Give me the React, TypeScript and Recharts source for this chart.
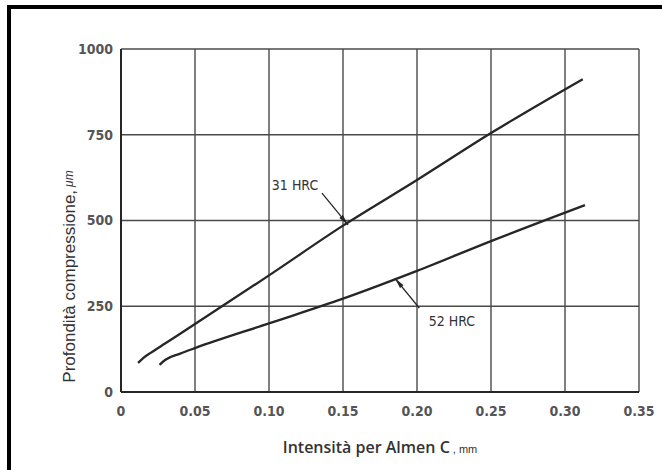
import React from "react";
import {
  LineChart,
  Line,
  XAxis,
  YAxis,
  CartesianGrid,
  ReferenceLine,
  ReferenceDot,
} from "recharts";

// values (Almen C intensity in mm, depth in µm)
const hrc31Intensity = [0.0115, 0.015, 0.02, 0.03, 0.05, 0.1, 0.15, 0.2, 0.25, 0.312];
const hrc31Depth = [85, 99, 114, 142, 198, 340, 485, 618, 755, 912];

const hrc52Intensity = [0.026, 0.03, 0.04, 0.05, 0.1, 0.15, 0.2, 0.25, 0.3135];
const hrc52Depth = [79, 94, 112, 128, 200, 272, 353, 440, 545];

const xTicks = [0, 0.05, 0.1, 0.15, 0.2, 0.25, 0.3, 0.35];
const yTicks = [0, 250, 500, 750, 1000];

// annotation label + arrow from label to curve
const label31 = { x: 0.1176, y: 603, text: "31 HRC" };
const arrow31 = [
  { x: 0.1358, y: 580 },
  { x: 0.1534, y: 487 },
];
const label52 = { x: 0.2236, y: 207, text: "52 HRC" };
const arrow52 = [
  { x: 0.2015, y: 245 },
  { x: 0.185, y: 332 },
];

const series31 = hrc31Intensity.map((x, i) => ({ x, y: hrc31Depth[i] }));
const series52 = hrc52Intensity.map((x, i) => ({ x, y: hrc52Depth[i] }));

const INK = "#262626";
const GRID = "#4a4a4a";
const tickFont = "'DejaVu Sans Condensed', 'Liberation Sans Narrow', 'Liberation Sans', sans-serif";

function Arrow(props: any) {
  const { x1, y1, x2, y2 } = props;
  if ([x1, y1, x2, y2].some((v) => v == null || isNaN(v))) return null;
  const dx = x2 - x1;
  const dy = y2 - y1;
  const len = Math.sqrt(dx * dx + dy * dy) || 1;
  const ux = dx / len;
  const uy = dy / len;
  const headLen = 11;
  const half = 2.3;
  const bx = x2 - ux * headLen;
  const by = y2 - uy * headLen;
  const pts = [
    `${x2},${y2}`,
    `${bx - uy * half},${by + ux * half}`,
    `${bx + uy * half},${by - ux * half}`,
  ].join(" ");
  return (
    <g>
      <line x1={x1} y1={y1} x2={x2} y2={y2} stroke={INK} strokeWidth={1.3} />
      <polygon points={pts} fill={INK} />
    </g>
  );
}

function XTitle(props: any) {
  const vb = props.viewBox || {};
  const cx = vb.x + vb.width / 2;
  const y = vb.y + vb.height + 31;
  return (
    <text x={cx} y={y} textAnchor="middle" fill="#333">
      <tspan fontFamily="'Open Sans', sans-serif" fontWeight={600} fontSize={16}>
        Intensità per Almen C
      </tspan>
      <tspan fontFamily="'Liberation Sans', Arial, sans-serif" fontSize={11} dx={3}>
        , mm
      </tspan>
    </text>
  );
}

function YTitle(props: any) {
  const vb = props.viewBox || {};
  const cx = vb.x - 12;
  const cy = vb.y + vb.height / 2 + 56;
  return (
    <text
      x={cx}
      y={cy}
      textAnchor="middle"
      dominantBaseline="central"
      transform={`rotate(-90, ${cx}, ${cy})`}
      fill="#333"
    >
      <tspan fontFamily="'Liberation Sans', Arial, sans-serif" fontSize={17}>
        Profondità compressione,
      </tspan>
      <tspan fontFamily="'Liberation Sans', Arial, sans-serif" fontSize={12} fontStyle="italic" dx={3}>
        μm
      </tspan>
    </text>
  );
}

const fmtX = (v: number) => (v === 0 ? "0" : v.toFixed(2));

export default function App() {
  return (
    <div
      style={{
        position: "absolute",
        left: 0,
        top: 0,
        width: 662,
        height: 470,
        background: "#fff",
        overflow: "hidden",
      }}
    >
      <div
        style={{
          position: "absolute",
          left: 7,
          top: 5,
          right: -10,
          bottom: -10,
          borderLeft: "4px solid #000",
          borderTop: "4px solid #000",
        }}
      />
      <div style={{ position: "absolute", left: 0, top: 0 }}>
        <LineChart
          width={662}
          height={470}
          margin={{ top: 49, right: 23, left: 81, bottom: 48 }}
        >
          <CartesianGrid stroke={GRID} strokeWidth={1.4} />
          <XAxis
            type="number"
            dataKey="x"
            domain={[0, 0.35]}
            ticks={xTicks}
            tickFormatter={fmtX}
            allowDataOverflow
            height={30}
            axisLine={{ stroke: INK, strokeWidth: 2 }}
            tickLine={false}
            tickMargin={8}
            tick={{ fontFamily: tickFont, fontWeight: 700, fontSize: 14, fill: "#555" }}
            label={{ content: XTitle }}
          />
          <YAxis
            type="number"
            dataKey="y"
            domain={[0, 1000]}
            ticks={yTicks}
            width={40}
            axisLine={{ stroke: INK, strokeWidth: 2 }}
            tickLine={false}
            tick={{ fontFamily: tickFont, fontWeight: 700, fontSize: 14, fill: "#555" }}
            label={{ content: YTitle }}
          />
          <Line
            data={series31}
            dataKey="y"
            type="monotone"
            stroke={INK}
            strokeWidth={2.3}
            dot={false}
            isAnimationActive={false}
          />
          <Line
            data={series52}
            dataKey="y"
            type="monotone"
            stroke={INK}
            strokeWidth={2.3}
            dot={false}
            isAnimationActive={false}
          />
          <ReferenceLine segment={arrow31} shape={Arrow} ifOverflow="visible" />
          <ReferenceLine segment={arrow52} shape={Arrow} ifOverflow="visible" />
          <ReferenceDot
            x={label31.x}
            y={label31.y}
            r={0}
            fill="none"
            stroke="none"
            label={{
              value: label31.text,
              position: "center",
              fill: "#333",
              fontSize: 14,
              fontFamily: tickFont,
            }}
          />
          <ReferenceDot
            x={label52.x}
            y={label52.y}
            r={0}
            fill="none"
            stroke="none"
            label={{
              value: label52.text,
              position: "center",
              fill: "#333",
              fontSize: 14,
              fontFamily: tickFont,
            }}
          />
        </LineChart>
      </div>
    </div>
  );
}
